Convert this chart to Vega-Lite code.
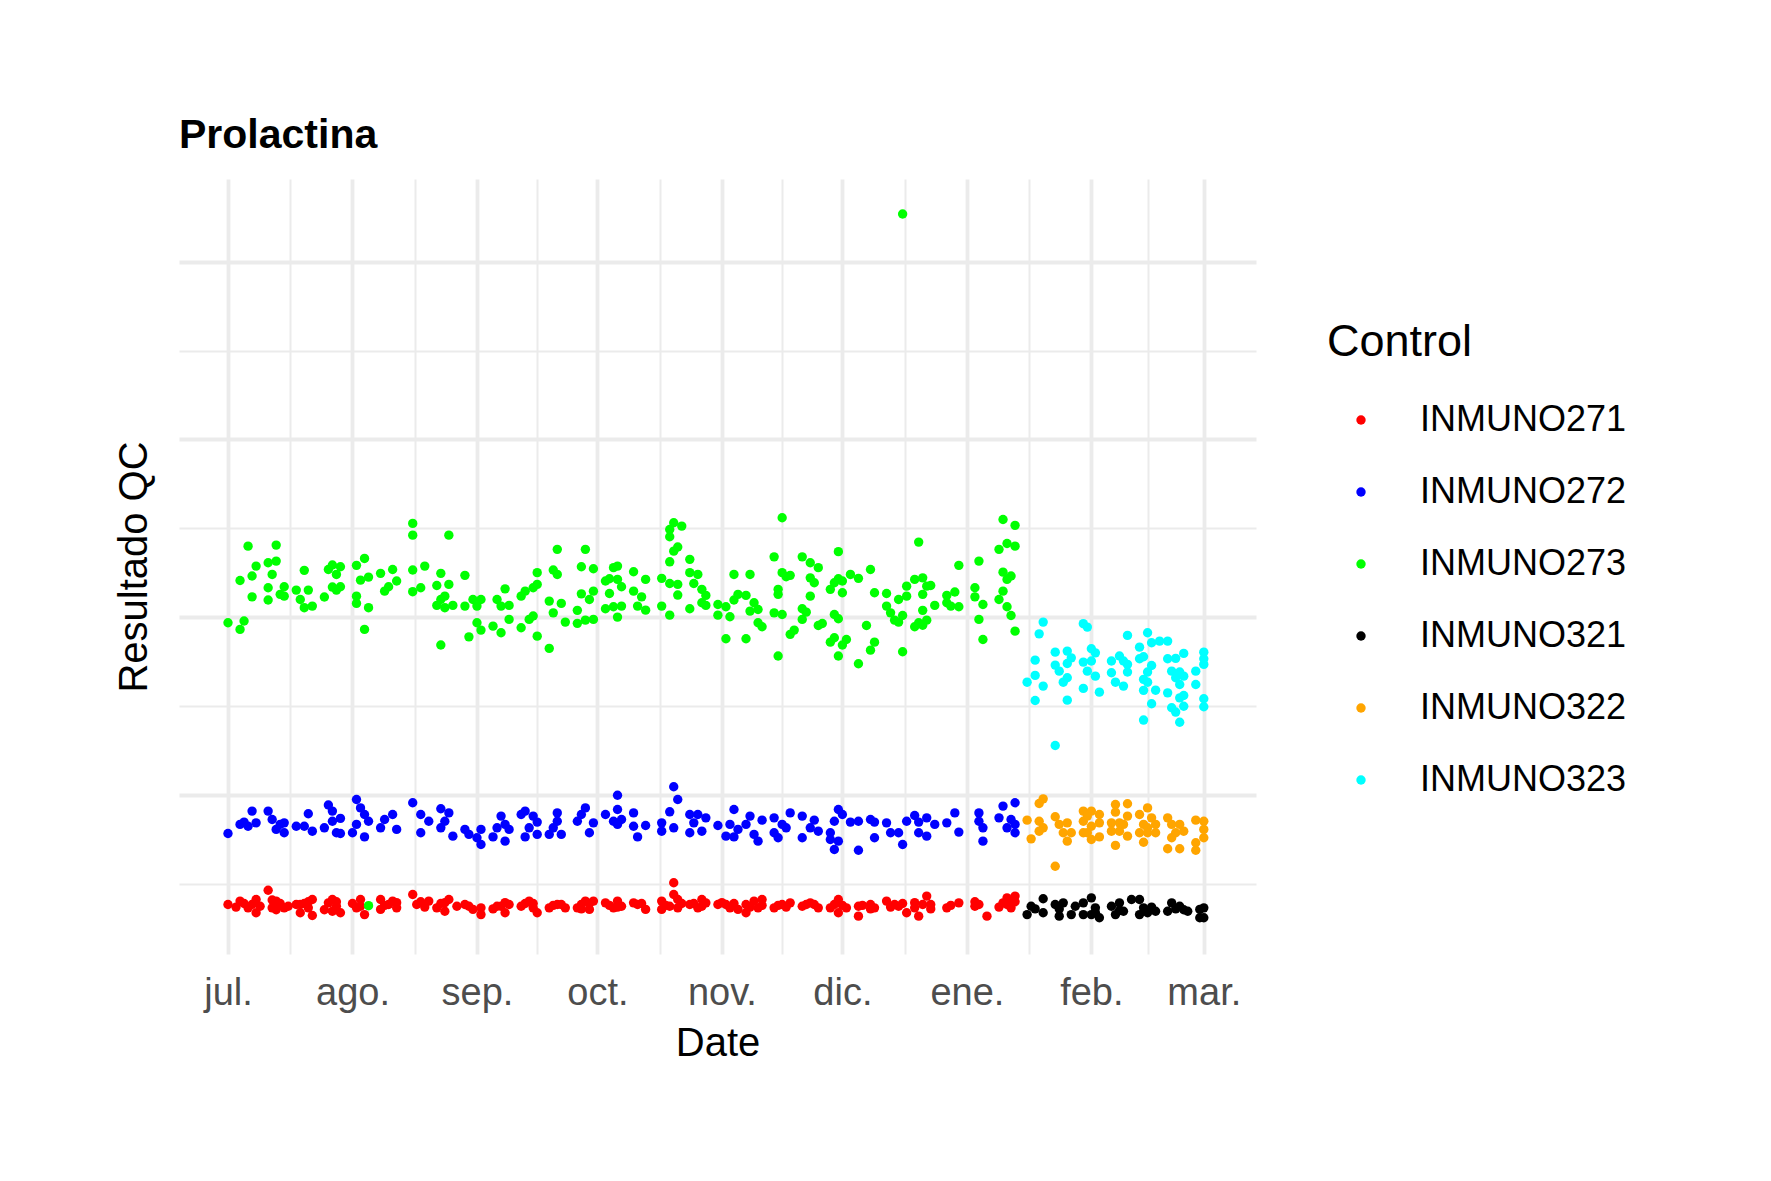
{
  "$schema": "https://vega.github.io/schema/vega-lite/v6.json",
  "autosize": {"type": "none"},
  "padding": {"left": 179, "top": 179, "right": 515, "bottom": 227},
  "width": 1077,
  "height": 775,
  "background": "white",
  "config": {"view": {"stroke": null}, "font": "Liberation Sans"},
  "title": {"text": "Prolactina", "anchor": "start", "frame": "group", "font": "Liberation Sans", "fontSize": 41, "fontWeight": "bold", "color": "black", "offset": 22},
  "data": {"values": [
{"d":"2022-07-01","v":19.69,"c":"INMUNO273"},
{"d":"2022-07-04","v":19.32,"c":"INMUNO273"},
{"d":"2022-07-05","v":19.79,"c":"INMUNO273"},
{"d":"2022-07-04","v":22.07,"c":"INMUNO273"},
{"d":"2022-07-06","v":24.0,"c":"INMUNO273"},
{"d":"2022-07-07","v":22.32,"c":"INMUNO273"},
{"d":"2022-07-08","v":22.88,"c":"INMUNO273"},
{"d":"2022-07-07","v":21.15,"c":"INMUNO273"},
{"d":"2022-07-11","v":23.07,"c":"INMUNO273"},
{"d":"2022-07-13","v":23.16,"c":"INMUNO273"},
{"d":"2022-07-13","v":24.06,"c":"INMUNO273"},
{"d":"2022-07-12","v":22.41,"c":"INMUNO273"},
{"d":"2022-07-11","v":21.66,"c":"INMUNO273"},
{"d":"2022-07-11","v":20.97,"c":"INMUNO273"},
{"d":"2022-07-14","v":21.29,"c":"INMUNO273"},
{"d":"2022-07-15","v":21.72,"c":"INMUNO273"},
{"d":"2022-07-15","v":21.19,"c":"INMUNO273"},
{"d":"2022-07-18","v":21.53,"c":"INMUNO273"},
{"d":"2022-07-20","v":22.64,"c":"INMUNO273"},
{"d":"2022-07-21","v":21.53,"c":"INMUNO273"},
{"d":"2022-07-19","v":21.0,"c":"INMUNO273"},
{"d":"2022-07-20","v":20.54,"c":"INMUNO273"},
{"d":"2022-07-22","v":20.63,"c":"INMUNO273"},
{"d":"2022-07-25","v":21.14,"c":"INMUNO273"},
{"d":"2022-07-26","v":22.69,"c":"INMUNO273"},
{"d":"2022-07-27","v":22.94,"c":"INMUNO273"},
{"d":"2022-07-28","v":22.41,"c":"INMUNO273"},
{"d":"2022-07-29","v":22.84,"c":"INMUNO273"},
{"d":"2022-07-27","v":21.7,"c":"INMUNO273"},
{"d":"2022-07-29","v":21.72,"c":"INMUNO273"},
{"d":"2022-07-28","v":21.53,"c":"INMUNO273"},
{"d":"2022-08-02","v":22.92,"c":"INMUNO273"},
{"d":"2022-08-04","v":23.31,"c":"INMUNO273"},
{"d":"2022-08-03","v":22.09,"c":"INMUNO273"},
{"d":"2022-08-05","v":22.26,"c":"INMUNO273"},
{"d":"2022-08-02","v":21.19,"c":"INMUNO273"},
{"d":"2022-08-02","v":20.78,"c":"INMUNO273"},
{"d":"2022-08-05","v":20.54,"c":"INMUNO273"},
{"d":"2022-08-04","v":19.32,"c":"INMUNO273"},
{"d":"2022-08-08","v":22.47,"c":"INMUNO273"},
{"d":"2022-08-11","v":22.69,"c":"INMUNO273"},
{"d":"2022-08-12","v":22.04,"c":"INMUNO273"},
{"d":"2022-08-10","v":21.72,"c":"INMUNO273"},
{"d":"2022-08-09","v":21.47,"c":"INMUNO273"},
{"d":"2022-08-16","v":25.28,"c":"INMUNO273"},
{"d":"2022-08-16","v":24.62,"c":"INMUNO273"},
{"d":"2022-08-16","v":22.66,"c":"INMUNO273"},
{"d":"2022-08-16","v":21.44,"c":"INMUNO273"},
{"d":"2022-08-18","v":21.66,"c":"INMUNO273"},
{"d":"2022-08-19","v":22.88,"c":"INMUNO273"},
{"d":"2022-08-25","v":24.62,"c":"INMUNO273"},
{"d":"2022-08-23","v":22.47,"c":"INMUNO273"},
{"d":"2022-08-22","v":21.79,"c":"INMUNO273"},
{"d":"2022-08-25","v":21.85,"c":"INMUNO273"},
{"d":"2022-08-24","v":21.19,"c":"INMUNO273"},
{"d":"2022-08-22","v":20.67,"c":"INMUNO273"},
{"d":"2022-08-24","v":20.54,"c":"INMUNO273"},
{"d":"2022-08-26","v":20.67,"c":"INMUNO273"},
{"d":"2022-08-23","v":18.44,"c":"INMUNO273"},
{"d":"2022-08-29","v":22.36,"c":"INMUNO273"},
{"d":"2022-08-29","v":20.63,"c":"INMUNO273"},
{"d":"2022-08-30","v":18.9,"c":"INMUNO273"},
{"d":"2022-08-31","v":21.0,"c":"INMUNO273"},
{"d":"2022-08-23","v":21.0,"c":"INMUNO273"},
{"d":"2022-09-01","v":20.63,"c":"INMUNO273"},
{"d":"2022-09-02","v":21.0,"c":"INMUNO273"},
{"d":"2022-09-01","v":19.69,"c":"INMUNO273"},
{"d":"2022-09-02","v":19.28,"c":"INMUNO273"},
{"d":"2022-09-06","v":21.0,"c":"INMUNO273"},
{"d":"2022-09-07","v":20.63,"c":"INMUNO273"},
{"d":"2022-09-09","v":20.67,"c":"INMUNO273"},
{"d":"2022-09-08","v":21.6,"c":"INMUNO273"},
{"d":"2022-09-05","v":19.5,"c":"INMUNO273"},
{"d":"2022-09-07","v":19.13,"c":"INMUNO273"},
{"d":"2022-09-09","v":19.88,"c":"INMUNO273"},
{"d":"2022-09-12","v":21.19,"c":"INMUNO273"},
{"d":"2022-09-13","v":21.47,"c":"INMUNO273"},
{"d":"2022-09-15","v":21.66,"c":"INMUNO273"},
{"d":"2022-09-16","v":21.85,"c":"INMUNO273"},
{"d":"2022-09-16","v":22.51,"c":"INMUNO273"},
{"d":"2022-09-12","v":19.41,"c":"INMUNO273"},
{"d":"2022-09-14","v":19.88,"c":"INMUNO273"},
{"d":"2022-09-15","v":20.07,"c":"INMUNO273"},
{"d":"2022-09-16","v":18.94,"c":"INMUNO273"},
{"d":"2022-09-19","v":18.25,"c":"INMUNO273"},
{"d":"2022-09-21","v":23.82,"c":"INMUNO273"},
{"d":"2022-09-20","v":22.66,"c":"INMUNO273"},
{"d":"2022-09-21","v":22.41,"c":"INMUNO273"},
{"d":"2022-09-19","v":20.91,"c":"INMUNO273"},
{"d":"2022-09-20","v":20.25,"c":"INMUNO273"},
{"d":"2022-09-22","v":20.78,"c":"INMUNO273"},
{"d":"2022-09-23","v":19.73,"c":"INMUNO273"},
{"d":"2022-09-28","v":23.82,"c":"INMUNO273"},
{"d":"2022-09-27","v":22.84,"c":"INMUNO273"},
{"d":"2022-09-30","v":22.73,"c":"INMUNO273"},
{"d":"2022-09-27","v":21.32,"c":"INMUNO273"},
{"d":"2022-09-30","v":21.47,"c":"INMUNO273"},
{"d":"2022-09-29","v":21.0,"c":"INMUNO273"},
{"d":"2022-09-26","v":20.39,"c":"INMUNO273"},
{"d":"2022-09-26","v":19.66,"c":"INMUNO273"},
{"d":"2022-09-28","v":19.84,"c":"INMUNO273"},
{"d":"2022-09-30","v":19.88,"c":"INMUNO273"},
{"d":"2022-10-03","v":22.04,"c":"INMUNO273"},
{"d":"2022-10-04","v":22.17,"c":"INMUNO273"},
{"d":"2022-10-05","v":22.79,"c":"INMUNO273"},
{"d":"2022-10-06","v":22.88,"c":"INMUNO273"},
{"d":"2022-10-06","v":22.13,"c":"INMUNO273"},
{"d":"2022-10-07","v":21.72,"c":"INMUNO273"},
{"d":"2022-10-04","v":21.34,"c":"INMUNO273"},
{"d":"2022-10-03","v":20.48,"c":"INMUNO273"},
{"d":"2022-10-05","v":20.59,"c":"INMUNO273"},
{"d":"2022-10-07","v":20.63,"c":"INMUNO273"},
{"d":"2022-10-06","v":20.01,"c":"INMUNO273"},
{"d":"2022-10-10","v":22.56,"c":"INMUNO273"},
{"d":"2022-10-10","v":21.47,"c":"INMUNO273"},
{"d":"2022-10-12","v":21.15,"c":"INMUNO273"},
{"d":"2022-10-11","v":20.63,"c":"INMUNO273"},
{"d":"2022-10-13","v":22.13,"c":"INMUNO273"},
{"d":"2022-10-13","v":20.4,"c":"INMUNO273"},
{"d":"2022-10-17","v":22.19,"c":"INMUNO273"},
{"d":"2022-10-17","v":20.63,"c":"INMUNO273"},
{"d":"2022-10-19","v":20.12,"c":"INMUNO273"},
{"d":"2022-10-19","v":21.9,"c":"INMUNO273"},
{"d":"2022-10-21","v":21.85,"c":"INMUNO273"},
{"d":"2022-10-21","v":21.25,"c":"INMUNO273"},
{"d":"2022-10-19","v":24.53,"c":"INMUNO273"},
{"d":"2022-10-19","v":24.94,"c":"INMUNO273"},
{"d":"2022-10-20","v":25.32,"c":"INMUNO273"},
{"d":"2022-10-22","v":25.13,"c":"INMUNO273"},
{"d":"2022-10-20","v":23.72,"c":"INMUNO273"},
{"d":"2022-10-21","v":23.95,"c":"INMUNO273"},
{"d":"2022-10-19","v":23.12,"c":"INMUNO273"},
{"d":"2022-10-24","v":23.26,"c":"INMUNO273"},
{"d":"2022-10-24","v":22.51,"c":"INMUNO273"},
{"d":"2022-10-26","v":22.41,"c":"INMUNO273"},
{"d":"2022-10-25","v":21.9,"c":"INMUNO273"},
{"d":"2022-10-27","v":21.57,"c":"INMUNO273"},
{"d":"2022-10-28","v":21.23,"c":"INMUNO273"},
{"d":"2022-10-27","v":20.82,"c":"INMUNO273"},
{"d":"2022-10-28","v":20.67,"c":"INMUNO273"},
{"d":"2022-10-24","v":20.48,"c":"INMUNO273"},
{"d":"2022-10-31","v":20.72,"c":"INMUNO273"},
{"d":"2022-10-31","v":20.12,"c":"INMUNO273"},
{"d":"2022-11-02","v":20.59,"c":"INMUNO273"},
{"d":"2022-11-03","v":20.03,"c":"INMUNO273"},
{"d":"2022-11-04","v":22.41,"c":"INMUNO273"},
{"d":"2022-11-05","v":21.29,"c":"INMUNO273"},
{"d":"2022-11-04","v":20.97,"c":"INMUNO273"},
{"d":"2022-11-02","v":18.79,"c":"INMUNO273"},
{"d":"2022-11-07","v":21.23,"c":"INMUNO273"},
{"d":"2022-11-08","v":22.41,"c":"INMUNO273"},
{"d":"2022-11-09","v":20.82,"c":"INMUNO273"},
{"d":"2022-11-08","v":20.35,"c":"INMUNO273"},
{"d":"2022-11-10","v":20.44,"c":"INMUNO273"},
{"d":"2022-11-10","v":19.69,"c":"INMUNO273"},
{"d":"2022-11-11","v":19.47,"c":"INMUNO273"},
{"d":"2022-11-07","v":18.79,"c":"INMUNO273"},
{"d":"2022-11-14","v":23.4,"c":"INMUNO273"},
{"d":"2022-11-15","v":21.57,"c":"INMUNO273"},
{"d":"2022-11-15","v":21.29,"c":"INMUNO273"},
{"d":"2022-11-16","v":22.51,"c":"INMUNO273"},
{"d":"2022-11-17","v":22.28,"c":"INMUNO273"},
{"d":"2022-11-18","v":22.36,"c":"INMUNO273"},
{"d":"2022-11-16","v":25.6,"c":"INMUNO273"},
{"d":"2022-11-14","v":20.25,"c":"INMUNO273"},
{"d":"2022-11-16","v":20.16,"c":"INMUNO273"},
{"d":"2022-11-18","v":19.04,"c":"INMUNO273"},
{"d":"2022-11-19","v":19.28,"c":"INMUNO273"},
{"d":"2022-11-15","v":17.82,"c":"INMUNO273"},
{"d":"2022-11-21","v":23.4,"c":"INMUNO273"},
{"d":"2022-11-23","v":23.07,"c":"INMUNO273"},
{"d":"2022-11-25","v":22.79,"c":"INMUNO273"},
{"d":"2022-11-23","v":22.22,"c":"INMUNO273"},
{"d":"2022-11-24","v":21.94,"c":"INMUNO273"},
{"d":"2022-11-23","v":21.19,"c":"INMUNO273"},
{"d":"2022-11-21","v":20.48,"c":"INMUNO273"},
{"d":"2022-11-22","v":20.29,"c":"INMUNO273"},
{"d":"2022-11-21","v":19.88,"c":"INMUNO273"},
{"d":"2022-11-25","v":19.54,"c":"INMUNO273"},
{"d":"2022-11-26","v":19.65,"c":"INMUNO273"},
{"d":"2022-11-30","v":23.69,"c":"INMUNO273"},
{"d":"2022-11-28","v":21.57,"c":"INMUNO273"},
{"d":"2022-11-29","v":21.94,"c":"INMUNO273"},
{"d":"2022-11-30","v":22.17,"c":"INMUNO273"},
{"d":"2022-12-01","v":22.04,"c":"INMUNO273"},
{"d":"2022-12-03","v":22.41,"c":"INMUNO273"},
{"d":"2022-12-01","v":21.38,"c":"INMUNO273"},
{"d":"2022-11-29","v":20.16,"c":"INMUNO273"},
{"d":"2022-11-30","v":19.92,"c":"INMUNO273"},
{"d":"2022-11-29","v":18.85,"c":"INMUNO273"},
{"d":"2022-11-28","v":18.6,"c":"INMUNO273"},
{"d":"2022-12-01","v":18.44,"c":"INMUNO273"},
{"d":"2022-12-02","v":18.75,"c":"INMUNO273"},
{"d":"2022-11-30","v":17.82,"c":"INMUNO273"},
{"d":"2022-12-05","v":22.19,"c":"INMUNO273"},
{"d":"2022-12-08","v":22.69,"c":"INMUNO273"},
{"d":"2022-12-09","v":21.38,"c":"INMUNO273"},
{"d":"2022-12-07","v":19.54,"c":"INMUNO273"},
{"d":"2022-12-09","v":18.6,"c":"INMUNO273"},
{"d":"2022-12-08","v":18.15,"c":"INMUNO273"},
{"d":"2022-12-05","v":17.39,"c":"INMUNO273"},
{"d":"2022-12-12","v":21.34,"c":"INMUNO273"},
{"d":"2022-12-12","v":20.63,"c":"INMUNO273"},
{"d":"2022-12-13","v":20.25,"c":"INMUNO273"},
{"d":"2022-12-14","v":19.84,"c":"INMUNO273"},
{"d":"2022-12-15","v":19.73,"c":"INMUNO273"},
{"d":"2022-12-15","v":21.0,"c":"INMUNO273"},
{"d":"2022-12-17","v":21.19,"c":"INMUNO273"},
{"d":"2022-12-17","v":21.75,"c":"INMUNO273"},
{"d":"2022-12-16","v":20.1,"c":"INMUNO273"},
{"d":"2022-12-16","v":18.06,"c":"INMUNO273"},
{"d":"2022-12-20","v":24.23,"c":"INMUNO273"},
{"d":"2022-12-19","v":22.13,"c":"INMUNO273"},
{"d":"2022-12-21","v":22.22,"c":"INMUNO273"},
{"d":"2022-12-22","v":21.75,"c":"INMUNO273"},
{"d":"2022-12-23","v":21.79,"c":"INMUNO273"},
{"d":"2022-12-21","v":21.29,"c":"INMUNO273"},
{"d":"2022-12-24","v":20.67,"c":"INMUNO273"},
{"d":"2022-12-21","v":20.39,"c":"INMUNO273"},
{"d":"2022-12-20","v":19.69,"c":"INMUNO273"},
{"d":"2022-12-21","v":19.55,"c":"INMUNO273"},
{"d":"2022-12-22","v":19.84,"c":"INMUNO273"},
{"d":"2022-12-19","v":19.47,"c":"INMUNO273"},
{"d":"2022-12-27","v":21.23,"c":"INMUNO273"},
{"d":"2022-12-27","v":20.82,"c":"INMUNO273"},
{"d":"2022-12-29","v":21.42,"c":"INMUNO273"},
{"d":"2022-12-30","v":20.59,"c":"INMUNO273"},
{"d":"2022-12-28","v":20.63,"c":"INMUNO273"},
{"d":"2022-12-30","v":22.92,"c":"INMUNO273"},
{"d":"2023-01-04","v":23.16,"c":"INMUNO273"},
{"d":"2023-01-03","v":21.66,"c":"INMUNO273"},
{"d":"2023-01-03","v":21.15,"c":"INMUNO273"},
{"d":"2023-01-05","v":20.72,"c":"INMUNO273"},
{"d":"2023-01-04","v":19.88,"c":"INMUNO273"},
{"d":"2023-01-05","v":18.75,"c":"INMUNO273"},
{"d":"2023-01-10","v":25.5,"c":"INMUNO273"},
{"d":"2023-01-13","v":25.17,"c":"INMUNO273"},
{"d":"2023-01-11","v":24.15,"c":"INMUNO273"},
{"d":"2023-01-13","v":24.0,"c":"INMUNO273"},
{"d":"2023-01-09","v":23.82,"c":"INMUNO273"},
{"d":"2023-01-10","v":22.54,"c":"INMUNO273"},
{"d":"2023-01-12","v":22.32,"c":"INMUNO273"},
{"d":"2023-01-11","v":22.13,"c":"INMUNO273"},
{"d":"2023-01-10","v":21.47,"c":"INMUNO273"},
{"d":"2023-01-09","v":21.0,"c":"INMUNO273"},
{"d":"2023-01-11","v":20.59,"c":"INMUNO273"},
{"d":"2023-01-12","v":20.1,"c":"INMUNO273"},
{"d":"2023-01-13","v":19.22,"c":"INMUNO273"},
{"d":"2022-12-16","v":42.68,"c":"INMUNO273"},
{"d":"2022-07-01","v":7.84,"c":"INMUNO272"},
{"d":"2022-07-04","v":8.35,"c":"INMUNO272"},
{"d":"2022-07-05","v":8.48,"c":"INMUNO272"},
{"d":"2022-07-07","v":9.1,"c":"INMUNO272"},
{"d":"2022-07-08","v":8.44,"c":"INMUNO272"},
{"d":"2022-07-06","v":8.25,"c":"INMUNO272"},
{"d":"2022-07-11","v":9.1,"c":"INMUNO272"},
{"d":"2022-07-12","v":8.63,"c":"INMUNO272"},
{"d":"2022-07-14","v":8.35,"c":"INMUNO272"},
{"d":"2022-07-15","v":7.88,"c":"INMUNO272"},
{"d":"2022-07-15","v":8.44,"c":"INMUNO272"},
{"d":"2022-07-13","v":8.07,"c":"INMUNO272"},
{"d":"2022-07-18","v":8.25,"c":"INMUNO272"},
{"d":"2022-07-21","v":8.95,"c":"INMUNO272"},
{"d":"2022-07-20","v":8.25,"c":"INMUNO272"},
{"d":"2022-07-22","v":7.97,"c":"INMUNO272"},
{"d":"2022-07-26","v":9.44,"c":"INMUNO272"},
{"d":"2022-07-25","v":8.16,"c":"INMUNO272"},
{"d":"2022-07-27","v":9.1,"c":"INMUNO272"},
{"d":"2022-07-29","v":8.69,"c":"INMUNO272"},
{"d":"2022-07-28","v":7.88,"c":"INMUNO272"},
{"d":"2022-07-29","v":7.84,"c":"INMUNO272"},
{"d":"2022-07-27","v":8.53,"c":"INMUNO272"},
{"d":"2022-08-02","v":9.75,"c":"INMUNO272"},
{"d":"2022-08-03","v":9.28,"c":"INMUNO272"},
{"d":"2022-08-04","v":8.91,"c":"INMUNO272"},
{"d":"2022-08-05","v":8.53,"c":"INMUNO272"},
{"d":"2022-08-02","v":8.35,"c":"INMUNO272"},
{"d":"2022-08-04","v":7.65,"c":"INMUNO272"},
{"d":"2022-08-01","v":7.88,"c":"INMUNO272"},
{"d":"2022-08-09","v":8.63,"c":"INMUNO272"},
{"d":"2022-08-11","v":8.91,"c":"INMUNO272"},
{"d":"2022-08-12","v":8.07,"c":"INMUNO272"},
{"d":"2022-08-08","v":8.16,"c":"INMUNO272"},
{"d":"2022-08-16","v":9.57,"c":"INMUNO272"},
{"d":"2022-08-18","v":8.91,"c":"INMUNO272"},
{"d":"2022-08-20","v":8.53,"c":"INMUNO272"},
{"d":"2022-08-18","v":7.88,"c":"INMUNO272"},
{"d":"2022-08-23","v":9.23,"c":"INMUNO272"},
{"d":"2022-08-25","v":9.0,"c":"INMUNO272"},
{"d":"2022-08-23","v":8.16,"c":"INMUNO272"},
{"d":"2022-08-24","v":8.53,"c":"INMUNO272"},
{"d":"2022-08-26","v":7.69,"c":"INMUNO272"},
{"d":"2022-08-29","v":8.07,"c":"INMUNO272"},
{"d":"2022-08-30","v":7.79,"c":"INMUNO272"},
{"d":"2022-09-02","v":8.07,"c":"INMUNO272"},
{"d":"2022-09-02","v":7.22,"c":"INMUNO272"},
{"d":"2022-09-01","v":7.6,"c":"INMUNO272"},
{"d":"2022-09-06","v":8.16,"c":"INMUNO272"},
{"d":"2022-09-07","v":8.82,"c":"INMUNO272"},
{"d":"2022-09-08","v":8.35,"c":"INMUNO272"},
{"d":"2022-09-09","v":8.07,"c":"INMUNO272"},
{"d":"2022-09-05","v":7.65,"c":"INMUNO272"},
{"d":"2022-09-08","v":7.41,"c":"INMUNO272"},
{"d":"2022-09-12","v":8.91,"c":"INMUNO272"},
{"d":"2022-09-13","v":9.1,"c":"INMUNO272"},
{"d":"2022-09-15","v":8.82,"c":"INMUNO272"},
{"d":"2022-09-16","v":8.48,"c":"INMUNO272"},
{"d":"2022-09-14","v":8.16,"c":"INMUNO272"},
{"d":"2022-09-13","v":7.65,"c":"INMUNO272"},
{"d":"2022-09-16","v":7.79,"c":"INMUNO272"},
{"d":"2022-09-21","v":9.0,"c":"INMUNO272"},
{"d":"2022-09-21","v":8.53,"c":"INMUNO272"},
{"d":"2022-09-20","v":8.16,"c":"INMUNO272"},
{"d":"2022-09-19","v":7.79,"c":"INMUNO272"},
{"d":"2022-09-22","v":7.79,"c":"INMUNO272"},
{"d":"2022-09-28","v":9.28,"c":"INMUNO272"},
{"d":"2022-09-26","v":8.53,"c":"INMUNO272"},
{"d":"2022-09-27","v":8.91,"c":"INMUNO272"},
{"d":"2022-09-30","v":8.44,"c":"INMUNO272"},
{"d":"2022-09-29","v":7.88,"c":"INMUNO272"},
{"d":"2022-10-03","v":8.91,"c":"INMUNO272"},
{"d":"2022-10-05","v":8.53,"c":"INMUNO272"},
{"d":"2022-10-06","v":9.99,"c":"INMUNO272"},
{"d":"2022-10-06","v":9.19,"c":"INMUNO272"},
{"d":"2022-10-07","v":8.63,"c":"INMUNO272"},
{"d":"2022-10-06","v":8.35,"c":"INMUNO272"},
{"d":"2022-10-10","v":9.0,"c":"INMUNO272"},
{"d":"2022-10-10","v":8.25,"c":"INMUNO272"},
{"d":"2022-10-13","v":8.29,"c":"INMUNO272"},
{"d":"2022-10-11","v":7.65,"c":"INMUNO272"},
{"d":"2022-10-20","v":10.47,"c":"INMUNO272"},
{"d":"2022-10-21","v":9.75,"c":"INMUNO272"},
{"d":"2022-10-19","v":9.06,"c":"INMUNO272"},
{"d":"2022-10-17","v":8.44,"c":"INMUNO272"},
{"d":"2022-10-20","v":8.16,"c":"INMUNO272"},
{"d":"2022-10-17","v":7.97,"c":"INMUNO272"},
{"d":"2022-10-24","v":8.91,"c":"INMUNO272"},
{"d":"2022-10-26","v":8.91,"c":"INMUNO272"},
{"d":"2022-10-28","v":8.72,"c":"INMUNO272"},
{"d":"2022-10-25","v":8.44,"c":"INMUNO272"},
{"d":"2022-10-27","v":7.97,"c":"INMUNO272"},
{"d":"2022-10-24","v":7.88,"c":"INMUNO272"},
{"d":"2022-10-31","v":8.29,"c":"INMUNO272"},
{"d":"2022-11-04","v":9.19,"c":"INMUNO272"},
{"d":"2022-11-03","v":8.35,"c":"INMUNO272"},
{"d":"2022-11-05","v":8.07,"c":"INMUNO272"},
{"d":"2022-11-02","v":7.69,"c":"INMUNO272"},
{"d":"2022-11-04","v":7.65,"c":"INMUNO272"},
{"d":"2022-11-08","v":8.82,"c":"INMUNO272"},
{"d":"2022-11-07","v":8.35,"c":"INMUNO272"},
{"d":"2022-11-11","v":8.59,"c":"INMUNO272"},
{"d":"2022-11-10","v":7.41,"c":"INMUNO272"},
{"d":"2022-11-09","v":7.79,"c":"INMUNO272"},
{"d":"2022-11-14","v":8.72,"c":"INMUNO272"},
{"d":"2022-11-16","v":8.35,"c":"INMUNO272"},
{"d":"2022-11-18","v":9.0,"c":"INMUNO272"},
{"d":"2022-11-17","v":8.16,"c":"INMUNO272"},
{"d":"2022-11-15","v":7.6,"c":"INMUNO272"},
{"d":"2022-11-14","v":7.88,"c":"INMUNO272"},
{"d":"2022-11-21","v":8.82,"c":"INMUNO272"},
{"d":"2022-11-24","v":8.59,"c":"INMUNO272"},
{"d":"2022-11-23","v":8.16,"c":"INMUNO272"},
{"d":"2022-11-25","v":7.97,"c":"INMUNO272"},
{"d":"2022-11-21","v":7.6,"c":"INMUNO272"},
{"d":"2022-11-30","v":9.19,"c":"INMUNO272"},
{"d":"2022-12-01","v":8.91,"c":"INMUNO272"},
{"d":"2022-12-03","v":8.48,"c":"INMUNO272"},
{"d":"2022-11-29","v":8.53,"c":"INMUNO272"},
{"d":"2022-11-28","v":7.88,"c":"INMUNO272"},
{"d":"2022-11-30","v":7.41,"c":"INMUNO272"},
{"d":"2022-11-29","v":6.94,"c":"INMUNO272"},
{"d":"2022-11-28","v":7.5,"c":"INMUNO272"},
{"d":"2022-12-05","v":8.53,"c":"INMUNO272"},
{"d":"2022-12-08","v":8.63,"c":"INMUNO272"},
{"d":"2022-12-09","v":8.48,"c":"INMUNO272"},
{"d":"2022-12-09","v":7.6,"c":"INMUNO272"},
{"d":"2022-12-05","v":6.9,"c":"INMUNO272"},
{"d":"2022-12-12","v":8.44,"c":"INMUNO272"},
{"d":"2022-12-13","v":7.88,"c":"INMUNO272"},
{"d":"2022-12-15","v":7.88,"c":"INMUNO272"},
{"d":"2022-12-17","v":8.53,"c":"INMUNO272"},
{"d":"2022-12-16","v":7.22,"c":"INMUNO272"},
{"d":"2022-12-19","v":8.85,"c":"INMUNO272"},
{"d":"2022-12-20","v":8.48,"c":"INMUNO272"},
{"d":"2022-12-22","v":8.72,"c":"INMUNO272"},
{"d":"2022-12-24","v":8.35,"c":"INMUNO272"},
{"d":"2022-12-20","v":7.88,"c":"INMUNO272"},
{"d":"2022-12-22","v":7.69,"c":"INMUNO272"},
{"d":"2022-12-27","v":8.44,"c":"INMUNO272"},
{"d":"2022-12-29","v":9.0,"c":"INMUNO272"},
{"d":"2022-12-30","v":7.92,"c":"INMUNO272"},
{"d":"2023-01-04","v":9.0,"c":"INMUNO272"},
{"d":"2023-01-04","v":8.53,"c":"INMUNO272"},
{"d":"2023-01-05","v":8.16,"c":"INMUNO272"},
{"d":"2023-01-05","v":7.41,"c":"INMUNO272"},
{"d":"2023-01-09","v":8.72,"c":"INMUNO272"},
{"d":"2023-01-10","v":9.38,"c":"INMUNO272"},
{"d":"2023-01-13","v":9.57,"c":"INMUNO272"},
{"d":"2023-01-11","v":8.16,"c":"INMUNO272"},
{"d":"2023-01-13","v":7.88,"c":"INMUNO272"},
{"d":"2023-01-12","v":8.63,"c":"INMUNO272"},
{"d":"2023-01-13","v":8.35,"c":"INMUNO272"},
{"d":"2022-07-01","v":3.85,"c":"INMUNO271"},
{"d":"2022-07-04","v":4.04,"c":"INMUNO271"},
{"d":"2022-07-05","v":3.9,"c":"INMUNO271"},
{"d":"2022-07-06","v":3.66,"c":"INMUNO271"},
{"d":"2022-07-08","v":4.13,"c":"INMUNO271"},
{"d":"2022-07-08","v":3.38,"c":"INMUNO271"},
{"d":"2022-07-11","v":4.65,"c":"INMUNO271"},
{"d":"2022-07-12","v":3.66,"c":"INMUNO271"},
{"d":"2022-07-13","v":4.04,"c":"INMUNO271"},
{"d":"2022-07-14","v":3.9,"c":"INMUNO271"},
{"d":"2022-07-15","v":3.66,"c":"INMUNO271"},
{"d":"2022-07-18","v":3.85,"c":"INMUNO271"},
{"d":"2022-07-19","v":3.38,"c":"INMUNO271"},
{"d":"2022-07-20","v":3.9,"c":"INMUNO271"},
{"d":"2022-07-22","v":4.13,"c":"INMUNO271"},
{"d":"2022-07-22","v":3.23,"c":"INMUNO271"},
{"d":"2022-07-21","v":3.66,"c":"INMUNO271"},
{"d":"2022-07-26","v":3.94,"c":"INMUNO271"},
{"d":"2022-07-27","v":4.13,"c":"INMUNO271"},
{"d":"2022-07-28","v":3.75,"c":"INMUNO271"},
{"d":"2022-07-29","v":3.38,"c":"INMUNO271"},
{"d":"2022-07-27","v":3.47,"c":"INMUNO271"},
{"d":"2022-08-03","v":4.13,"c":"INMUNO271"},
{"d":"2022-08-03","v":3.75,"c":"INMUNO271"},
{"d":"2022-08-02","v":3.66,"c":"INMUNO271"},
{"d":"2022-08-04","v":3.28,"c":"INMUNO271"},
{"d":"2022-08-08","v":4.13,"c":"INMUNO271"},
{"d":"2022-08-10","v":3.85,"c":"INMUNO271"},
{"d":"2022-08-11","v":4.04,"c":"INMUNO271"},
{"d":"2022-08-12","v":3.66,"c":"INMUNO271"},
{"d":"2022-08-08","v":3.57,"c":"INMUNO271"},
{"d":"2022-08-16","v":4.41,"c":"INMUNO271"},
{"d":"2022-08-17","v":3.85,"c":"INMUNO271"},
{"d":"2022-08-18","v":4.0,"c":"INMUNO271"},
{"d":"2022-08-20","v":4.04,"c":"INMUNO271"},
{"d":"2022-08-22","v":3.66,"c":"INMUNO271"},
{"d":"2022-08-23","v":3.9,"c":"INMUNO271"},
{"d":"2022-08-25","v":4.13,"c":"INMUNO271"},
{"d":"2022-08-27","v":3.75,"c":"INMUNO271"},
{"d":"2022-08-24","v":3.47,"c":"INMUNO271"},
{"d":"2022-08-29","v":3.85,"c":"INMUNO271"},
{"d":"2022-08-31","v":3.57,"c":"INMUNO271"},
{"d":"2022-09-02","v":3.66,"c":"INMUNO271"},
{"d":"2022-09-02","v":3.28,"c":"INMUNO271"},
{"d":"2022-09-06","v":3.75,"c":"INMUNO271"},
{"d":"2022-09-07","v":3.75,"c":"INMUNO271"},
{"d":"2022-09-09","v":3.85,"c":"INMUNO271"},
{"d":"2022-09-08","v":3.38,"c":"INMUNO271"},
{"d":"2022-09-12","v":3.75,"c":"INMUNO271"},
{"d":"2022-09-13","v":3.9,"c":"INMUNO271"},
{"d":"2022-09-14","v":4.04,"c":"INMUNO271"},
{"d":"2022-09-15","v":3.66,"c":"INMUNO271"},
{"d":"2022-09-16","v":3.38,"c":"INMUNO271"},
{"d":"2022-09-19","v":3.66,"c":"INMUNO271"},
{"d":"2022-09-21","v":3.85,"c":"INMUNO271"},
{"d":"2022-09-22","v":3.85,"c":"INMUNO271"},
{"d":"2022-09-23","v":3.66,"c":"INMUNO271"},
{"d":"2022-09-26","v":3.66,"c":"INMUNO271"},
{"d":"2022-09-27","v":3.85,"c":"INMUNO271"},
{"d":"2022-09-28","v":4.04,"c":"INMUNO271"},
{"d":"2022-09-30","v":4.04,"c":"INMUNO271"},
{"d":"2022-09-29","v":3.57,"c":"INMUNO271"},
{"d":"2022-10-03","v":3.94,"c":"INMUNO271"},
{"d":"2022-10-04","v":3.8,"c":"INMUNO271"},
{"d":"2022-10-06","v":4.04,"c":"INMUNO271"},
{"d":"2022-10-07","v":3.75,"c":"INMUNO271"},
{"d":"2022-10-05","v":3.66,"c":"INMUNO271"},
{"d":"2022-10-10","v":3.94,"c":"INMUNO271"},
{"d":"2022-10-11","v":3.85,"c":"INMUNO271"},
{"d":"2022-10-13","v":3.57,"c":"INMUNO271"},
{"d":"2022-10-17","v":4.04,"c":"INMUNO271"},
{"d":"2022-10-19","v":3.75,"c":"INMUNO271"},
{"d":"2022-10-20","v":5.07,"c":"INMUNO271"},
{"d":"2022-10-20","v":4.41,"c":"INMUNO271"},
{"d":"2022-10-21","v":4.13,"c":"INMUNO271"},
{"d":"2022-10-17","v":3.57,"c":"INMUNO271"},
{"d":"2022-10-21","v":3.66,"c":"INMUNO271"},
{"d":"2022-10-24","v":3.85,"c":"INMUNO271"},
{"d":"2022-10-25","v":3.9,"c":"INMUNO271"},
{"d":"2022-10-27","v":4.13,"c":"INMUNO271"},
{"d":"2022-10-28","v":3.94,"c":"INMUNO271"},
{"d":"2022-10-26","v":3.66,"c":"INMUNO271"},
{"d":"2022-10-31","v":3.85,"c":"INMUNO271"},
{"d":"2022-11-02","v":3.85,"c":"INMUNO271"},
{"d":"2022-11-03","v":3.66,"c":"INMUNO271"},
{"d":"2022-11-05","v":3.57,"c":"INMUNO271"},
{"d":"2022-11-07","v":3.38,"c":"INMUNO271"},
{"d":"2022-11-07","v":3.85,"c":"INMUNO271"},
{"d":"2022-11-08","v":3.7,"c":"INMUNO271"},
{"d":"2022-11-09","v":4.04,"c":"INMUNO271"},
{"d":"2022-11-11","v":4.13,"c":"INMUNO271"},
{"d":"2022-11-10","v":3.66,"c":"INMUNO271"},
{"d":"2022-11-14","v":3.66,"c":"INMUNO271"},
{"d":"2022-11-15","v":3.8,"c":"INMUNO271"},
{"d":"2022-11-16","v":3.85,"c":"INMUNO271"},
{"d":"2022-11-18","v":3.94,"c":"INMUNO271"},
{"d":"2022-11-21","v":3.75,"c":"INMUNO271"},
{"d":"2022-11-22","v":3.85,"c":"INMUNO271"},
{"d":"2022-11-23","v":3.94,"c":"INMUNO271"},
{"d":"2022-11-25","v":3.66,"c":"INMUNO271"},
{"d":"2022-11-28","v":3.66,"c":"INMUNO271"},
{"d":"2022-11-29","v":3.85,"c":"INMUNO271"},
{"d":"2022-11-30","v":4.13,"c":"INMUNO271"},
{"d":"2022-12-02","v":3.66,"c":"INMUNO271"},
{"d":"2022-11-30","v":3.38,"c":"INMUNO271"},
{"d":"2022-12-05","v":3.19,"c":"INMUNO271"},
{"d":"2022-12-05","v":3.75,"c":"INMUNO271"},
{"d":"2022-12-06","v":3.8,"c":"INMUNO271"},
{"d":"2022-12-08","v":3.85,"c":"INMUNO271"},
{"d":"2022-12-09","v":3.66,"c":"INMUNO271"},
{"d":"2022-12-12","v":4.04,"c":"INMUNO271"},
{"d":"2022-12-13","v":3.7,"c":"INMUNO271"},
{"d":"2022-12-15","v":3.75,"c":"INMUNO271"},
{"d":"2022-12-16","v":3.9,"c":"INMUNO271"},
{"d":"2022-12-17","v":3.38,"c":"INMUNO271"},
{"d":"2022-12-19","v":3.66,"c":"INMUNO271"},
{"d":"2022-12-21","v":3.85,"c":"INMUNO271"},
{"d":"2022-12-22","v":4.32,"c":"INMUNO271"},
{"d":"2022-12-23","v":3.85,"c":"INMUNO271"},
{"d":"2022-12-20","v":3.19,"c":"INMUNO271"},
{"d":"2022-12-27","v":3.66,"c":"INMUNO271"},
{"d":"2022-12-28","v":3.8,"c":"INMUNO271"},
{"d":"2022-12-30","v":3.94,"c":"INMUNO271"},
{"d":"2023-01-03","v":3.75,"c":"INMUNO271"},
{"d":"2023-01-04","v":3.85,"c":"INMUNO271"},
{"d":"2023-01-06","v":3.19,"c":"INMUNO271"},
{"d":"2023-01-09","v":3.7,"c":"INMUNO271"},
{"d":"2023-01-10","v":3.94,"c":"INMUNO271"},
{"d":"2023-01-11","v":4.22,"c":"INMUNO271"},
{"d":"2023-01-12","v":4.0,"c":"INMUNO271"},
{"d":"2023-01-13","v":4.32,"c":"INMUNO271"},
{"d":"2023-01-12","v":3.66,"c":"INMUNO271"},
{"d":"2022-07-03","v":3.7,"c":"INMUNO271"},
{"d":"2022-07-07","v":3.85,"c":"INMUNO271"},
{"d":"2022-07-09","v":3.75,"c":"INMUNO271"},
{"d":"2022-07-12","v":4.1,"c":"INMUNO271"},
{"d":"2022-07-13","v":3.55,"c":"INMUNO271"},
{"d":"2022-07-16","v":3.75,"c":"INMUNO271"},
{"d":"2022-07-19","v":3.85,"c":"INMUNO271"},
{"d":"2022-07-21","v":4.0,"c":"INMUNO271"},
{"d":"2022-07-25","v":3.55,"c":"INMUNO271"},
{"d":"2022-07-28","v":4.0,"c":"INMUNO271"},
{"d":"2022-08-01","v":3.9,"c":"INMUNO271"},
{"d":"2022-08-09","v":3.8,"c":"INMUNO271"},
{"d":"2022-08-12","v":3.95,"c":"INMUNO271"},
{"d":"2022-08-19","v":3.7,"c":"INMUNO271"},
{"d":"2022-08-24","v":3.95,"c":"INMUNO271"},
{"d":"2022-08-30","v":3.75,"c":"INMUNO271"},
{"d":"2022-09-05","v":3.6,"c":"INMUNO271"},
{"d":"2022-09-08","v":3.95,"c":"INMUNO271"},
{"d":"2022-09-15","v":3.9,"c":"INMUNO271"},
{"d":"2022-09-20","v":3.8,"c":"INMUNO271"},
{"d":"2022-09-27","v":3.6,"c":"INMUNO271"},
{"d":"2022-09-29","v":3.9,"c":"INMUNO271"},
{"d":"2022-10-06","v":3.7,"c":"INMUNO271"},
{"d":"2022-10-12","v":3.9,"c":"INMUNO271"},
{"d":"2022-10-18","v":3.8,"c":"INMUNO271"},
{"d":"2022-10-22","v":3.9,"c":"INMUNO271"},
{"d":"2022-10-27","v":3.75,"c":"INMUNO271"},
{"d":"2022-11-01","v":3.95,"c":"INMUNO271"},
{"d":"2022-11-04","v":3.9,"c":"INMUNO271"},
{"d":"2022-11-11","v":3.8,"c":"INMUNO271"},
{"d":"2022-11-17","v":3.7,"c":"INMUNO271"},
{"d":"2022-11-24","v":3.85,"c":"INMUNO271"},
{"d":"2022-12-01","v":3.8,"c":"INMUNO271"},
{"d":"2022-12-08","v":3.6,"c":"INMUNO271"},
{"d":"2022-12-14","v":3.85,"c":"INMUNO271"},
{"d":"2022-12-19","v":3.95,"c":"INMUNO271"},
{"d":"2022-12-23","v":3.6,"c":"INMUNO271"},
{"d":"2023-01-03","v":4.0,"c":"INMUNO271"},
{"d":"2023-01-11","v":3.85,"c":"INMUNO271"},
{"d":"2023-01-13","v":4.0,"c":"INMUNO271"},
{"d":"2022-08-05","v":3.78,"c":"INMUNO273"},
{"d":"2023-01-20","v":19.73,"c":"INMUNO323"},
{"d":"2023-01-19","v":19.07,"c":"INMUNO323"},
{"d":"2023-01-18","v":17.59,"c":"INMUNO323"},
{"d":"2023-01-18","v":16.73,"c":"INMUNO323"},
{"d":"2023-01-16","v":16.35,"c":"INMUNO323"},
{"d":"2023-01-20","v":16.13,"c":"INMUNO323"},
{"d":"2023-01-18","v":15.32,"c":"INMUNO323"},
{"d":"2023-01-23","v":18.04,"c":"INMUNO323"},
{"d":"2023-01-23","v":17.31,"c":"INMUNO323"},
{"d":"2023-01-24","v":16.97,"c":"INMUNO323"},
{"d":"2023-01-25","v":16.35,"c":"INMUNO323"},
{"d":"2023-01-26","v":18.1,"c":"INMUNO323"},
{"d":"2023-01-27","v":17.72,"c":"INMUNO323"},
{"d":"2023-01-26","v":17.4,"c":"INMUNO323"},
{"d":"2023-01-26","v":16.6,"c":"INMUNO323"},
{"d":"2023-01-26","v":15.34,"c":"INMUNO323"},
{"d":"2023-01-23","v":12.79,"c":"INMUNO323"},
{"d":"2023-01-30","v":19.64,"c":"INMUNO323"},
{"d":"2023-01-31","v":19.45,"c":"INMUNO323"},
{"d":"2023-02-01","v":18.23,"c":"INMUNO323"},
{"d":"2023-02-02","v":18.0,"c":"INMUNO323"},
{"d":"2023-02-01","v":17.54,"c":"INMUNO323"},
{"d":"2023-01-30","v":17.48,"c":"INMUNO323"},
{"d":"2023-01-31","v":16.97,"c":"INMUNO323"},
{"d":"2023-02-02","v":16.69,"c":"INMUNO323"},
{"d":"2023-01-30","v":16.0,"c":"INMUNO323"},
{"d":"2023-02-03","v":15.79,"c":"INMUNO323"},
{"d":"2023-02-06","v":17.54,"c":"INMUNO323"},
{"d":"2023-02-08","v":17.82,"c":"INMUNO323"},
{"d":"2023-02-09","v":17.54,"c":"INMUNO323"},
{"d":"2023-02-10","v":17.35,"c":"INMUNO323"},
{"d":"2023-02-10","v":16.92,"c":"INMUNO323"},
{"d":"2023-02-06","v":16.88,"c":"INMUNO323"},
{"d":"2023-02-07","v":16.35,"c":"INMUNO323"},
{"d":"2023-02-09","v":16.13,"c":"INMUNO323"},
{"d":"2023-02-10","v":18.98,"c":"INMUNO323"},
{"d":"2023-02-13","v":18.32,"c":"INMUNO323"},
{"d":"2023-02-13","v":17.67,"c":"INMUNO323"},
{"d":"2023-02-14","v":17.78,"c":"INMUNO323"},
{"d":"2023-02-15","v":19.13,"c":"INMUNO323"},
{"d":"2023-02-16","v":18.57,"c":"INMUNO323"},
{"d":"2023-02-18","v":18.66,"c":"INMUNO323"},
{"d":"2023-02-16","v":17.29,"c":"INMUNO323"},
{"d":"2023-02-15","v":16.92,"c":"INMUNO323"},
{"d":"2023-02-14","v":16.51,"c":"INMUNO323"},
{"d":"2023-02-15","v":16.35,"c":"INMUNO323"},
{"d":"2023-02-14","v":15.89,"c":"INMUNO323"},
{"d":"2023-02-17","v":15.9,"c":"INMUNO323"},
{"d":"2023-02-16","v":15.14,"c":"INMUNO323"},
{"d":"2023-02-14","v":14.22,"c":"INMUNO323"},
{"d":"2023-02-20","v":18.66,"c":"INMUNO323"},
{"d":"2023-02-20","v":17.67,"c":"INMUNO323"},
{"d":"2023-02-22","v":17.69,"c":"INMUNO323"},
{"d":"2023-02-24","v":17.97,"c":"INMUNO323"},
{"d":"2023-02-21","v":16.97,"c":"INMUNO323"},
{"d":"2023-02-23","v":16.92,"c":"INMUNO323"},
{"d":"2023-02-22","v":16.6,"c":"INMUNO323"},
{"d":"2023-02-24","v":16.69,"c":"INMUNO323"},
{"d":"2023-02-23","v":16.22,"c":"INMUNO323"},
{"d":"2023-02-20","v":15.75,"c":"INMUNO323"},
{"d":"2023-02-24","v":15.6,"c":"INMUNO323"},
{"d":"2023-02-23","v":15.47,"c":"INMUNO323"},
{"d":"2023-02-24","v":15.0,"c":"INMUNO323"},
{"d":"2023-02-21","v":14.91,"c":"INMUNO323"},
{"d":"2023-02-22","v":14.67,"c":"INMUNO323"},
{"d":"2023-02-23","v":14.1,"c":"INMUNO323"},
{"d":"2023-02-27","v":16.97,"c":"INMUNO323"},
{"d":"2023-02-27","v":16.22,"c":"INMUNO323"},
{"d":"2023-03-01","v":18.04,"c":"INMUNO323"},
{"d":"2023-03-01","v":17.67,"c":"INMUNO323"},
{"d":"2023-03-01","v":17.35,"c":"INMUNO323"},
{"d":"2023-03-01","v":15.42,"c":"INMUNO323"},
{"d":"2023-03-01","v":14.97,"c":"INMUNO323"},
{"d":"2023-01-20","v":9.79,"c":"INMUNO322"},
{"d":"2023-01-19","v":9.53,"c":"INMUNO322"},
{"d":"2023-01-16","v":8.59,"c":"INMUNO322"},
{"d":"2023-01-19","v":8.53,"c":"INMUNO322"},
{"d":"2023-01-20","v":8.16,"c":"INMUNO322"},
{"d":"2023-01-17","v":7.54,"c":"INMUNO322"},
{"d":"2023-01-19","v":7.97,"c":"INMUNO322"},
{"d":"2023-01-23","v":8.78,"c":"INMUNO322"},
{"d":"2023-01-24","v":8.35,"c":"INMUNO322"},
{"d":"2023-01-26","v":8.44,"c":"INMUNO322"},
{"d":"2023-01-25","v":7.88,"c":"INMUNO322"},
{"d":"2023-01-27","v":7.88,"c":"INMUNO322"},
{"d":"2023-01-26","v":7.41,"c":"INMUNO322"},
{"d":"2023-01-23","v":6.0,"c":"INMUNO322"},
{"d":"2023-01-30","v":9.1,"c":"INMUNO322"},
{"d":"2023-02-01","v":9.1,"c":"INMUNO322"},
{"d":"2023-01-31","v":8.82,"c":"INMUNO322"},
{"d":"2023-02-03","v":8.91,"c":"INMUNO322"},
{"d":"2023-01-30","v":8.53,"c":"INMUNO322"},
{"d":"2023-02-03","v":8.44,"c":"INMUNO322"},
{"d":"2023-02-01","v":8.25,"c":"INMUNO322"},
{"d":"2023-01-30","v":7.88,"c":"INMUNO322"},
{"d":"2023-01-31","v":7.88,"c":"INMUNO322"},
{"d":"2023-02-03","v":7.65,"c":"INMUNO322"},
{"d":"2023-02-01","v":7.5,"c":"INMUNO322"},
{"d":"2023-02-07","v":9.47,"c":"INMUNO322"},
{"d":"2023-02-07","v":9.04,"c":"INMUNO322"},
{"d":"2023-02-10","v":9.51,"c":"INMUNO322"},
{"d":"2023-02-10","v":8.82,"c":"INMUNO322"},
{"d":"2023-02-06","v":8.44,"c":"INMUNO322"},
{"d":"2023-02-08","v":8.44,"c":"INMUNO322"},
{"d":"2023-02-09","v":8.35,"c":"INMUNO322"},
{"d":"2023-02-06","v":7.97,"c":"INMUNO322"},
{"d":"2023-02-08","v":7.97,"c":"INMUNO322"},
{"d":"2023-02-10","v":7.69,"c":"INMUNO322"},
{"d":"2023-02-07","v":7.17,"c":"INMUNO322"},
{"d":"2023-02-13","v":8.91,"c":"INMUNO322"},
{"d":"2023-02-15","v":9.28,"c":"INMUNO322"},
{"d":"2023-02-16","v":8.72,"c":"INMUNO322"},
{"d":"2023-02-14","v":8.35,"c":"INMUNO322"},
{"d":"2023-02-15","v":8.16,"c":"INMUNO322"},
{"d":"2023-02-17","v":8.35,"c":"INMUNO322"},
{"d":"2023-02-13","v":7.88,"c":"INMUNO322"},
{"d":"2023-02-15","v":7.88,"c":"INMUNO322"},
{"d":"2023-02-17","v":7.88,"c":"INMUNO322"},
{"d":"2023-02-14","v":7.35,"c":"INMUNO322"},
{"d":"2023-02-20","v":8.72,"c":"INMUNO322"},
{"d":"2023-02-21","v":8.35,"c":"INMUNO322"},
{"d":"2023-02-23","v":8.35,"c":"INMUNO322"},
{"d":"2023-02-24","v":7.97,"c":"INMUNO322"},
{"d":"2023-02-21","v":7.6,"c":"INMUNO322"},
{"d":"2023-02-22","v":7.88,"c":"INMUNO322"},
{"d":"2023-02-20","v":6.98,"c":"INMUNO322"},
{"d":"2023-02-23","v":6.98,"c":"INMUNO322"},
{"d":"2023-02-27","v":8.59,"c":"INMUNO322"},
{"d":"2023-03-01","v":8.53,"c":"INMUNO322"},
{"d":"2023-03-01","v":8.07,"c":"INMUNO322"},
{"d":"2023-03-01","v":7.6,"c":"INMUNO322"},
{"d":"2023-02-27","v":7.32,"c":"INMUNO322"},
{"d":"2023-02-27","v":6.9,"c":"INMUNO322"},
{"d":"2023-01-20","v":4.17,"c":"INMUNO321"},
{"d":"2023-01-17","v":3.75,"c":"INMUNO321"},
{"d":"2023-01-18","v":3.6,"c":"INMUNO321"},
{"d":"2023-01-16","v":3.28,"c":"INMUNO321"},
{"d":"2023-01-20","v":3.38,"c":"INMUNO321"},
{"d":"2023-01-23","v":3.85,"c":"INMUNO321"},
{"d":"2023-01-24","v":3.6,"c":"INMUNO321"},
{"d":"2023-01-25","v":3.94,"c":"INMUNO321"},
{"d":"2023-01-28","v":3.75,"c":"INMUNO321"},
{"d":"2023-01-24","v":3.19,"c":"INMUNO321"},
{"d":"2023-01-27","v":3.28,"c":"INMUNO321"},
{"d":"2023-01-30","v":3.94,"c":"INMUNO321"},
{"d":"2023-02-01","v":4.22,"c":"INMUNO321"},
{"d":"2023-02-02","v":3.66,"c":"INMUNO321"},
{"d":"2023-02-02","v":3.4,"c":"INMUNO321"},
{"d":"2023-01-30","v":3.28,"c":"INMUNO321"},
{"d":"2023-02-01","v":3.28,"c":"INMUNO321"},
{"d":"2023-02-03","v":3.1,"c":"INMUNO321"},
{"d":"2023-02-06","v":3.75,"c":"INMUNO321"},
{"d":"2023-02-08","v":3.94,"c":"INMUNO321"},
{"d":"2023-02-08","v":3.5,"c":"INMUNO321"},
{"d":"2023-02-11","v":4.13,"c":"INMUNO321"},
{"d":"2023-02-07","v":3.28,"c":"INMUNO321"},
{"d":"2023-02-09","v":3.47,"c":"INMUNO321"},
{"d":"2023-02-13","v":4.13,"c":"INMUNO321"},
{"d":"2023-02-14","v":3.66,"c":"INMUNO321"},
{"d":"2023-02-15","v":3.38,"c":"INMUNO321"},
{"d":"2023-02-16","v":3.7,"c":"INMUNO321"},
{"d":"2023-02-17","v":3.47,"c":"INMUNO321"},
{"d":"2023-02-13","v":3.28,"c":"INMUNO321"},
{"d":"2023-02-21","v":3.94,"c":"INMUNO321"},
{"d":"2023-02-22","v":3.6,"c":"INMUNO321"},
{"d":"2023-02-23","v":3.75,"c":"INMUNO321"},
{"d":"2023-02-24","v":3.55,"c":"INMUNO321"},
{"d":"2023-02-20","v":3.47,"c":"INMUNO321"},
{"d":"2023-02-25","v":3.47,"c":"INMUNO321"},
{"d":"2023-02-28","v":3.57,"c":"INMUNO321"},
{"d":"2023-03-01","v":3.66,"c":"INMUNO321"},
{"d":"2023-02-28","v":3.1,"c":"INMUNO321"},
{"d":"2023-03-01","v":3.1,"c":"INMUNO321"}
  ]},
  "mark": {"type": "circle", "size": 88, "opacity": 1},
  "encoding": {
    "x": {
      "field": "d",
      "type": "temporal",
      "title": "Date",
      "scale": {
        "type": "utc",
        "domain": [
          {"year": 2022, "month": 6, "date": 18, "hours": 19, "minutes": 12, "utc": true},
          {"year": 2023, "month": 3, "date": 14, "utc": true}
        ]
      },
      "axis": {
        "values": [
          {"year": 2022, "month": 7, "date": 1, "utc": true},
          {"year": 2022, "month": 7, "date": 16, "hours": 12, "utc": true},
          {"year": 2022, "month": 8, "date": 1, "utc": true},
          {"year": 2022, "month": 8, "date": 16, "hours": 12, "utc": true},
          {"year": 2022, "month": 9, "date": 1, "utc": true},
          {"year": 2022, "month": 9, "date": 16, "utc": true},
          {"year": 2022, "month": 10, "date": 1, "utc": true},
          {"year": 2022, "month": 10, "date": 16, "hours": 12, "utc": true},
          {"year": 2022, "month": 11, "date": 1, "utc": true},
          {"year": 2022, "month": 11, "date": 16, "utc": true},
          {"year": 2022, "month": 12, "date": 1, "utc": true},
          {"year": 2022, "month": 12, "date": 16, "hours": 12, "utc": true},
          {"year": 2023, "month": 1, "date": 1, "utc": true},
          {"year": 2023, "month": 1, "date": 16, "hours": 12, "utc": true},
          {"year": 2023, "month": 2, "date": 1, "utc": true},
          {"year": 2023, "month": 2, "date": 15, "utc": true},
          {"year": 2023, "month": 3, "date": 1, "utc": true}
        ],
        "labelExpr": "utcdate(datum.value) == 1 && utchours(datum.value) == 0 ? ['ene.','feb.','mar.','abr.','may.','jun.','jul.','ago.','sep.','oct.','nov.','dic.'][utcmonth(datum.value)] : ''",
        "labelOverlap": false,
        "labelFlush": false,
        "labelFont": "Liberation Sans",
        "labelFontSize": 38,
        "labelColor": "#4D4D4D",
        "labelPadding": 20,
        "ticks": false,
        "tickSize": 0,
        "domain": false,
        "grid": true,
        "gridColor": "#EBEBEB",
        "gridWidth": {"condition": {"test": "utcdate(datum.value) == 1", "value": 3.8}, "value": 2},
        "titleFont": "Liberation Sans",
        "titleFontSize": 40,
        "titleFontWeight": "normal",
        "titleColor": "black",
        "titlePadding": 11
      }
    },
    "y": {
      "field": "v",
      "type": "quantitative",
      "title": "Resultado QC",
      "scale": {"domain": [1.063, 44.65], "nice": false, "zero": false},
      "axis": {
        "values": [5, 10, 15, 20, 25, 30, 35, 40],
        "labels": false,
        "ticks": false,
        "tickSize": 0,
        "domain": false,
        "grid": true,
        "gridColor": "#EBEBEB",
        "gridWidth": {"condition": {"test": "datum.value % 10 === 0", "value": 3.8}, "value": 2},
        "titleFont": "Liberation Sans",
        "titleFontSize": 40,
        "titleFontWeight": "normal",
        "titleColor": "black",
        "titlePadding": 25
      }
    },
    "color": {
      "field": "c",
      "type": "nominal",
      "title": "Control",
      "scale": {
        "domain": ["INMUNO271", "INMUNO272", "INMUNO273", "INMUNO321", "INMUNO322", "INMUNO323"],
        "range": ["#FF0000", "#0000FF", "#00FF00", "#000000", "#FFA500", "#00FFFF"]
      },
      "legend": {
        "orient": "none",
        "legendX": 1148,
        "legendY": 141,
        "padding": 0,
        "titleFont": "Liberation Sans",
        "titleFontSize": 45,
        "titleFontWeight": "normal",
        "titleColor": "black",
        "titlePadding": 37,
        "labelFont": "Liberation Sans",
        "labelFontSize": 36,
        "labelColor": "black",
        "labelLimit": 500,
        "symbolType": "circle",
        "symbolSize": 88,
        "symbolStrokeWidth": 0,
        "symbolOpacity": 1,
        "symbolOffset": 16,
        "labelOffset": 41,
        "rowPadding": 36
      }
    }
  }
}
